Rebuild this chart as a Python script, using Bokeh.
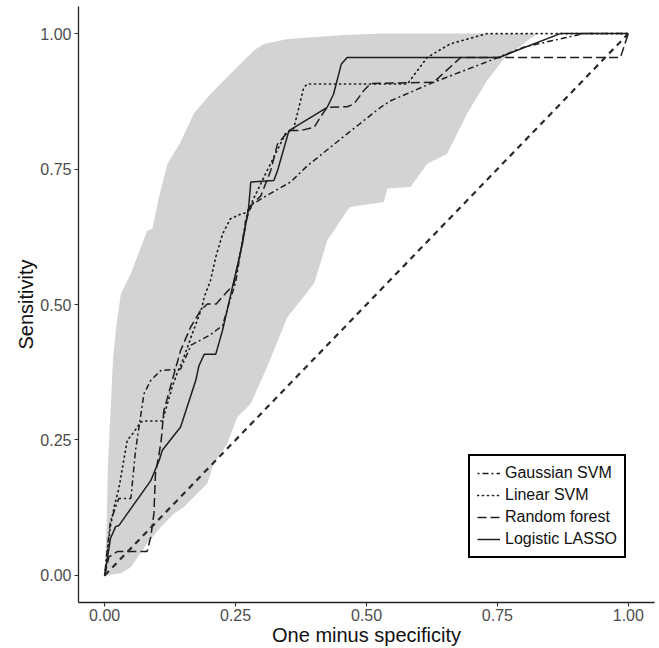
from bokeh.plotting import figure
from bokeh.models import Range1d, FixedTicker, PrintfTickFormatter, Legend, LegendItem
from bokeh.embed import file_html
from bokeh.resources import INLINE

# ---- data ----
band_upper_x = [0.0, 0.004, 0.006, 0.011, 0.016, 0.022, 0.031, 0.05, 0.081, 0.091, 0.104, 0.12, 0.145,
                0.17, 0.196, 0.234, 0.285, 0.304, 0.349, 0.45, 0.527, 0.83, 1.0]
band_upper_y = [0.0, 0.10, 0.20, 0.30, 0.40, 0.46, 0.52, 0.557, 0.636, 0.64, 0.70, 0.76, 0.80,
                0.852, 0.882, 0.92, 0.969, 0.981, 0.99, 0.997, 1.0, 1.0, 1.0]
band_lower_x = [0.0, 0.031, 0.05, 0.081, 0.107, 0.132, 0.151, 0.177, 0.196, 0.208, 0.234, 0.253, 0.279,
                0.31, 0.349, 0.374, 0.40, 0.425, 0.463, 0.469, 0.533, 0.54, 0.584, 0.616, 0.654,
                0.692, 0.73, 0.762, 0.826, 1.0]
band_lower_y = [0.0, 0.004, 0.015, 0.059, 0.089, 0.114, 0.126, 0.151, 0.169, 0.206, 0.243, 0.292, 0.317,
                0.384, 0.477, 0.507, 0.539, 0.618, 0.673, 0.680, 0.689, 0.714, 0.717, 0.760, 0.778,
                0.852, 0.913, 0.953, 1.0, 1.0]

gauss_x = [0.0, 0.005, 0.011, 0.027, 0.05, 0.059, 0.075, 0.088, 0.107, 0.145, 0.165, 0.20, 0.225,
           0.24, 0.25, 0.27, 0.279, 0.304, 0.355, 0.387, 0.40, 0.463, 0.527, 0.546, 0.628, 0.749,
           0.80, 0.915, 1.0]
gauss_y = [0.0, 0.05, 0.10, 0.142, 0.142, 0.231, 0.335, 0.36, 0.378, 0.381, 0.425, 0.443, 0.461,
           0.51, 0.54, 0.66, 0.683, 0.698, 0.726, 0.756, 0.766, 0.815, 0.864, 0.876, 0.91, 0.955,
           0.975, 1.0, 1.0]

linear_x = [0.0, 0.006, 0.011, 0.018, 0.027, 0.043, 0.053, 0.069, 0.075, 0.11, 0.116, 0.129, 0.139,
            0.148, 0.165, 0.186, 0.19, 0.202, 0.212, 0.225, 0.24, 0.26, 0.272, 0.304, 0.317,
            0.345, 0.361, 0.37, 0.38, 0.387, 0.578, 0.616, 0.66, 0.73, 1.0]
linear_y = [0.0, 0.05, 0.09, 0.126, 0.16, 0.249, 0.261, 0.283, 0.285, 0.285, 0.304, 0.348, 0.375,
            0.394, 0.44, 0.495, 0.514, 0.544, 0.587, 0.63, 0.658, 0.667, 0.67, 0.735, 0.76,
            0.815, 0.825, 0.86, 0.90, 0.907, 0.907, 0.956, 0.981, 1.0, 1.0]

rf_x = [0.0, 0.008, 0.024, 0.081, 0.088, 0.094, 0.097, 0.104, 0.108, 0.113, 0.129, 0.145, 0.164,
        0.183, 0.196, 0.213, 0.225, 0.247, 0.26, 0.272, 0.282, 0.298, 0.317, 0.33, 0.352, 0.374,
        0.40, 0.412, 0.425, 0.463, 0.476, 0.495, 0.508, 0.628, 0.68, 0.985, 1.0]
rf_y = [0.0, 0.034, 0.044, 0.044, 0.071, 0.114, 0.188, 0.225, 0.25, 0.304, 0.36, 0.415, 0.458,
        0.489, 0.501, 0.501, 0.514, 0.538, 0.60, 0.661, 0.686, 0.70, 0.747, 0.796, 0.821, 0.821,
        0.827, 0.846, 0.864, 0.865, 0.87, 0.895, 0.908, 0.91, 0.956, 0.956, 1.0]

lasso_x = [0.0, 0.011, 0.021, 0.027, 0.088, 0.104, 0.11, 0.145, 0.174, 0.18, 0.19, 0.212, 0.225,
           0.244, 0.263, 0.275, 0.279, 0.323, 0.33, 0.352, 0.425, 0.437, 0.452, 0.463, 0.753,
           0.87, 1.0]
lasso_y = [0.0, 0.068, 0.09, 0.092, 0.175, 0.212, 0.231, 0.274, 0.36, 0.387, 0.408, 0.408, 0.452,
           0.532, 0.612, 0.68, 0.726, 0.729, 0.747, 0.821, 0.864, 0.888, 0.944, 0.956, 0.956,
           1.0, 1.0]

ref_x = [0.0, 1.0]
ref_y = [0.0, 1.0]

tick_values = [0.0, 0.25, 0.5, 0.75, 1.0]
labels = ["Gaussian SVM", "Linear SVM", "Random forest", "Logistic LASSO"]

# ---- figure ----
FONT = "Liberation Sans"
p = figure(width=659, height=648, output_backend="svg", toolbar_location=None,
           x_range=Range1d(-0.05, 1.05), y_range=Range1d(-0.05, 1.05),
           min_border_left=78, min_border_right=5, min_border_top=6, min_border_bottom=46)
p.outline_line_color = None
p.xgrid.grid_line_color = None
p.ygrid.grid_line_color = None
p.background_fill_color = "white"

for ax in (p.xaxis[0], p.yaxis[0]):
    ax.ticker = FixedTicker(ticks=tick_values)
    ax.formatter = PrintfTickFormatter(format="%.2f")
    ax.axis_line_color = "#222222"
    ax.axis_line_width = 1.3
    ax.major_tick_line_color = "#333333"
    ax.major_tick_line_width = 1.1
    ax.major_tick_out = 4
    ax.major_tick_in = 0
    ax.minor_tick_line_color = None
    ax.major_label_text_font = FONT
    ax.major_label_text_font_size = "16px"
    ax.major_label_text_color = "#4d4d4d"
    ax.axis_label_text_font = FONT
    ax.axis_label_text_font_size = "20px"
    ax.axis_label_text_font_style = "normal"
    ax.axis_label_text_color = "#111111"

p.yaxis.major_label_standoff = 3
p.yaxis.axis_label_standoff = 0
p.xaxis.major_label_standoff = 2
p.xaxis.axis_label_standoff = 0

p.xaxis.axis_label = "One minus specificity"
p.yaxis.axis_label = "Sensitivity"

# band
p.patch(band_upper_x + band_lower_x[::-1], band_upper_y + band_lower_y[::-1],
        fill_color="#d2d3d5", line_color=None)

col = "#1e1e1e"
r_g = p.line(gauss_x, gauss_y, line_color=col, line_width=1.5, line_dash="2 3 6 3")
r_l = p.line(linear_x, linear_y, line_color=col, line_width=1.7, line_dash="1 4", line_cap="round")
r_r = p.line(rf_x, rf_y, line_color=col, line_width=1.5, line_dash="9 4")
r_s = p.line(lasso_x, lasso_y, line_color=col, line_width=1.5)
p.line(ref_x, ref_y, line_color="#2a2a2a", line_width=2.2, line_dash="6 5")

legend = Legend(items=[LegendItem(label=labels[0], renderers=[r_g]),
                       LegendItem(label=labels[1], renderers=[r_l]),
                       LegendItem(label=labels[2], renderers=[r_r]),
                       LegendItem(label=labels[3], renderers=[r_s])],
                location=(390, 44))
legend.label_text_font = FONT
legend.label_text_font_size = "16px"
legend.label_text_color = "#111111"
legend.border_line_color = "black"
legend.border_line_alpha = 1.0
legend.border_line_width = 2.4
legend.background_fill_color = "white"
legend.background_fill_alpha = 1.0
legend.padding = 7
legend.margin = 0
legend.spacing = 2
legend.label_height = 20
legend.glyph_height = 20
legend.glyph_width = 23
legend.label_standoff = 5
p.add_layout(legend, "center")

open("out.html", "w").write(file_html(p, INLINE))
